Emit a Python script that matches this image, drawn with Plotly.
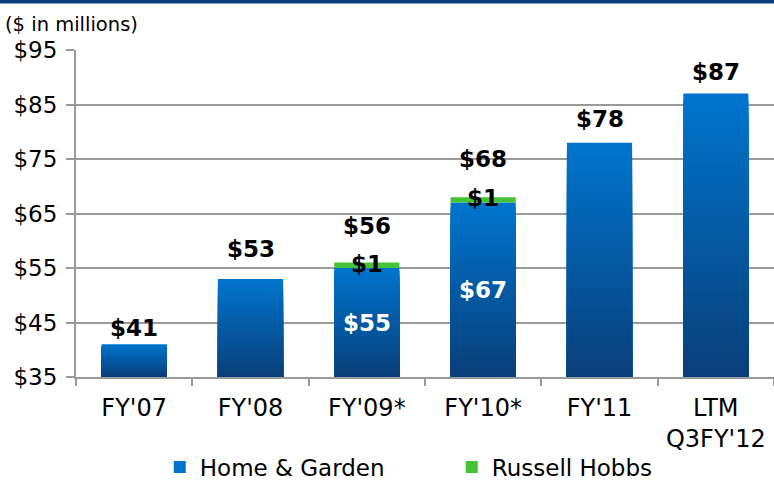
import plotly.graph_objects as go

# Fiscal periods and revenue split ($ in millions)
categories = ["FY'07", "FY'08", "FY'09*", "FY'10*", "FY'11", "LTM<br>Q3FY'12"]
home_garden = [41, 53, 55, 67, 78, 87]
russell_hobbs = [0, 0, 1, 1, 0, 0]
y_ticks = [35, 45, 55, 65, 75, 85, 95]
y_tick_labels = [f"${v}" for v in y_ticks]

# Label placement (pixels above the bar top for each total)
label_offsets = [16, 30, 37, 38, 24, 22]

AXIS_MIN = 35
FONT = "DejaVu Sans"
TOP_BLUE = (0, 116, 204)
BOTTOM_BLUE = (10, 62, 120)
GREEN = "#45C236"
GRID = "#9A9A9A"
N_STEPS = 40

totals = [h + r for h, r in zip(home_garden, russell_hobbs)]


def blend(t):
    c = [round(b + (a - b) * t) for a, b in zip(TOP_BLUE, BOTTOM_BLUE)]
    return "rgb({},{},{})".format(*c)


# Vertical gradient for the Home & Garden bars: overlapping bars from the
# axis floor up to successively lower heights, brightest (tallest) first.
gx, gy, gbase, gcol = [], [], [], []
for k in range(N_STEPS, 0, -1):
    t = k / N_STEPS
    for cat, h in zip(categories, home_garden):
        gx.append(cat)
        gbase.append(AXIS_MIN)
        gy.append((h - AXIS_MIN) * t)
        gcol.append(blend(t))

fig = go.Figure()
fig.add_trace(go.Bar(
    x=gx, y=gy, base=gbase, name="Home & Garden",
    marker=dict(color=gcol, line=dict(width=0)),
    hoverinfo="skip", showlegend=True,
))

rh_x = [c for c, r in zip(categories, russell_hobbs) if r > 0]
rh_y = [r for r in russell_hobbs if r > 0]
rh_base = [h for h, r in zip(home_garden, russell_hobbs) if r > 0]
fig.add_trace(go.Bar(
    x=rh_x, y=rh_y, base=rh_base, name="Russell Hobbs",
    marker=dict(color=GREEN, line=dict(width=0)),
))

annotations = []
for cat, tot, off in zip(categories, totals, label_offsets):
    annotations.append(dict(
        x=cat, y=tot, xref="x", yref="y", text=f"${tot}",
        showarrow=False, yanchor="middle", yshift=off,
        font=dict(family=FONT, size=23, color="black", weight="bold"),
    ))
for cat, h, r in zip(categories, home_garden, russell_hobbs):
    if r > 0:
        annotations.append(dict(
            x=cat, y=h + r, xref="x", yref="y", text=f"${r}",
            showarrow=False, yanchor="middle", yshift=-1,
            font=dict(family=FONT, size=23, color="black", weight="bold"),
        ))
        annotations.append(dict(
            x=cat, y=(AXIS_MIN + h) / 2, xref="x", yref="y", text=f"${h}",
            showarrow=False, yanchor="middle", yshift=0,
            font=dict(family=FONT, size=23, color="white", weight="bold"),
        ))
annotations.append(dict(
    x=-0.105, y=1.077, xref="paper", yref="paper", text="($ in millions)",
    showarrow=False, xanchor="left", yanchor="middle",
    font=dict(family=FONT, size=19.5, color="black"),
))

fig.update_layout(
    width=774, height=480,
    margin=dict(l=76, r=0, t=50, b=103, autoexpand=False),
    paper_bgcolor="white", plot_bgcolor="white",
    barmode="overlay", bargap=0.44,
    font=dict(family=FONT, color="black"),
    annotations=annotations,
    shapes=[dict(type="rect", xref="paper", yref="paper",
                 x0=-0.2, x1=1.1, y0=1.1425, y1=1.2,
                 line=dict(width=0), fillcolor="#0A3D7C")],
    legend=dict(
        orientation="h", x=0.12, y=-0.275, xanchor="left", yanchor="middle",
        font=dict(family=FONT, size=23, color="black"),
        entrywidth=247, itemwidth=30, bgcolor="rgba(0,0,0,0)",
    ),
    showlegend=True,
)

fig.update_xaxes(
    type="category", categoryorder="array", categoryarray=categories,
    showline=True, linecolor=GRID, linewidth=2,
    ticks="outside", tickson="boundaries", ticklen=7, tickwidth=2,
    tickcolor=GRID, showgrid=False, automargin=False,
    tickfont=dict(family=FONT, size=24, color="black"),
    ticklabelstandoff=8,
)
fig.update_yaxes(
    range=[AXIS_MIN, 95], tickmode="array", tickvals=y_ticks,
    ticktext=y_tick_labels, automargin=False,
    showline=True, linecolor=GRID, linewidth=2,
    ticks="outside", ticklen=8, tickwidth=2, tickcolor=GRID,
    showgrid=True, gridcolor=GRID, gridwidth=2, zeroline=False,
    tickfont=dict(family=FONT, size=23, color="black"),
    ticklabelstandoff=4,
)

fig.write_html("out.html")
